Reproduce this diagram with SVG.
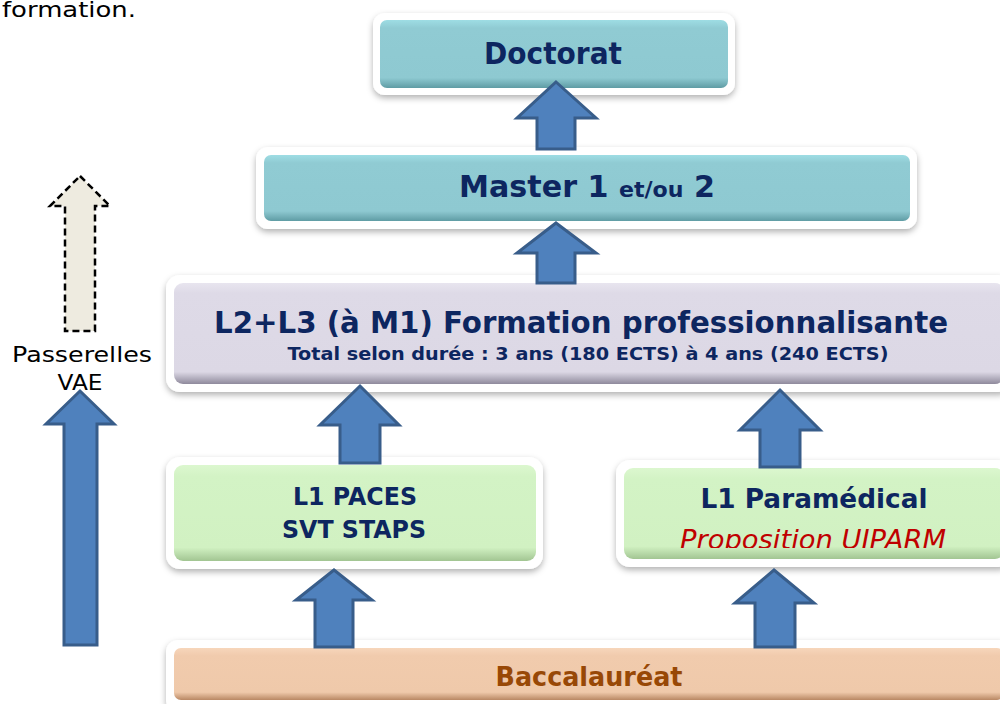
<svg xmlns="http://www.w3.org/2000/svg" width="1000" height="704" viewBox="0 0 1000 704">
<defs>
  <filter id="sh" x="-10%" y="-20%" width="120%" height="150%">
    <feDropShadow dx="0" dy="3" stdDeviation="3" flood-color="#000" flood-opacity="0.3"/>
  </filter>
  <linearGradient id="gTeal" x1="0" y1="0" x2="0" y2="1">
    <stop offset="0" stop-color="#9edde4"/>
    <stop offset="0.12" stop-color="#90cbd3"/>
    <stop offset="0.85" stop-color="#8ec9d1"/>
    <stop offset="1" stop-color="#5f9ca4"/>
  </linearGradient>
  <linearGradient id="gLav" x1="0" y1="0" x2="0" y2="1">
    <stop offset="0" stop-color="#e8e5ef"/>
    <stop offset="0.1" stop-color="#dedae7"/>
    <stop offset="0.88" stop-color="#dcd8e5"/>
    <stop offset="1" stop-color="#8f8a9c"/>
  </linearGradient>
  <linearGradient id="gGreen" x1="0" y1="0" x2="0" y2="1">
    <stop offset="0" stop-color="#dcf7cf"/>
    <stop offset="0.12" stop-color="#d3f3c5"/>
    <stop offset="0.86" stop-color="#d1f1c2"/>
    <stop offset="1" stop-color="#a2c592"/>
  </linearGradient>
  <linearGradient id="gOr" x1="0" y1="0" x2="0" y2="1">
    <stop offset="0" stop-color="#f7d6bb"/>
    <stop offset="0.15" stop-color="#f1cbad"/>
    <stop offset="0.85" stop-color="#efc9aa"/>
    <stop offset="1" stop-color="#b98864"/>
  </linearGradient>
  <clipPath id="cp"><rect x="624" y="468" width="380" height="80"/></clipPath>
  <style>
    .frame{fill:#fff;filter:url(#sh)}
    .arr{fill:#4f81bd;stroke:#385d8a;stroke-width:3;stroke-linejoin:miter}
    .t{font-family:"DejaVu Sans",Verdana,sans-serif;font-weight:bold;fill:#0d2660;text-anchor:middle}
    .plain{font-family:"DejaVu Sans",Verdana,sans-serif;fill:#000}
  </style>
</defs>

<text class="plain" x="2" y="17" font-size="21" textLength="134" lengthAdjust="spacingAndGlyphs">formation.</text>

<g id="passerelles">
  <path d="M80,176 L110,206 L95,206 L95,331 L65,331 L65,206 L50,206 Z" fill="#eeebe0" stroke="#000" stroke-width="2.5" stroke-dasharray="7,4"/>
  <text class="plain" x="82" y="362" font-size="22" text-anchor="middle" textLength="140" lengthAdjust="spacingAndGlyphs">Passerelles</text>
  <text class="plain" x="80" y="390" font-size="22" text-anchor="middle" textLength="45" lengthAdjust="spacingAndGlyphs">VAE</text>
</g>

<g id="doctorat">
  <rect class="frame" x="373" y="13" width="362" height="82" rx="12"/>
  <rect x="380" y="20" width="348" height="68" rx="7" fill="url(#gTeal)"/>
  <text class="t" x="553" y="64" font-size="30" textLength="138" lengthAdjust="spacingAndGlyphs">Doctorat</text>
</g>

<g id="master">
  <rect class="frame" x="256" y="147" width="661" height="82" rx="12"/>
  <rect x="264" y="155" width="646" height="66" rx="7" fill="url(#gTeal)"/>
  <text class="t" x="587" y="197" font-size="30" textLength="256" lengthAdjust="spacingAndGlyphs">Master 1 <tspan font-size="22">et/ou</tspan> 2</text>
</g>

<g id="l2l3">
  <rect class="frame" x="166" y="275" width="846" height="117" rx="14"/>
  <rect x="174" y="283" width="830" height="101" rx="9" fill="url(#gLav)"/>
  <text class="t" x="581" y="333" font-size="30" textLength="734" lengthAdjust="spacingAndGlyphs">L2+L3 (à M1) Formation professionnalisante</text>
  <text class="t" x="588" y="360" font-size="17" textLength="601" lengthAdjust="spacingAndGlyphs">Total selon durée : 3 ans (180 ECTS) à 4 ans (240 ECTS)</text>
</g>

<g id="l1paces">
  <rect class="frame" x="166" y="457" width="377" height="112" rx="14"/>
  <rect x="174" y="465" width="362" height="96" rx="9" fill="url(#gGreen)"/>
  <text class="t" x="355" y="505" font-size="24" textLength="124" lengthAdjust="spacingAndGlyphs">L1 PACES</text>
  <text class="t" x="354" y="538" font-size="24" textLength="144" lengthAdjust="spacingAndGlyphs">SVT STAPS</text>
</g>

<g id="l1para">
  <rect class="frame" x="616" y="460" width="396" height="107" rx="14"/>
  <rect x="624" y="468" width="380" height="91" rx="9" fill="url(#gGreen)"/>
  <text class="t" x="814" y="508" font-size="27" textLength="227" lengthAdjust="spacingAndGlyphs">L1 Paramédical</text>
  <text clip-path="url(#cp)" x="813" y="549" font-size="26" font-style="italic" fill="#c00000" font-family="'DejaVu Sans',Verdana,sans-serif" text-anchor="middle" textLength="266" lengthAdjust="spacingAndGlyphs">Proposition  UIPARM</text>
</g>

<g id="bac">
  <rect class="frame" x="166" y="640" width="846" height="72" rx="12"/>
  <rect x="174" y="648" width="830" height="52" rx="7" fill="url(#gOr)"/>
  <text class="t" x="589" y="686" font-size="26" style="fill:#984806" textLength="187" lengthAdjust="spacingAndGlyphs">Baccalauréat</text>
</g>

<g id="connectors">
  <path class="arr" d="M80,391 L114,424 L97,424 L97,645 L64,645 L64,424 L46,424 Z"/>
  <path class="arr" d="M556,82 L596,118 L575,118 L575,149 L537,149 L537,118 L517,118 Z"/>
  <path class="arr" d="M556,223 L596,253 L575,253 L575,283 L537,283 L537,253 L517,253 Z"/>
  <path class="arr" d="M360,386 L399,425 L380,425 L380,463 L340,463 L340,425 L320,425 Z"/>
  <path class="arr" d="M780,390 L820,430 L800,430 L800,467 L760,467 L760,430 L740,430 Z"/>
  <path class="arr" d="M334,570 L372,600 L353,600 L353,647 L315,647 L315,600 L296,600 Z"/>
  <path class="arr" d="M774,570 L814,603 L795,603 L795,647 L755,647 L755,603 L735,603 Z"/>
</g>
</svg>
